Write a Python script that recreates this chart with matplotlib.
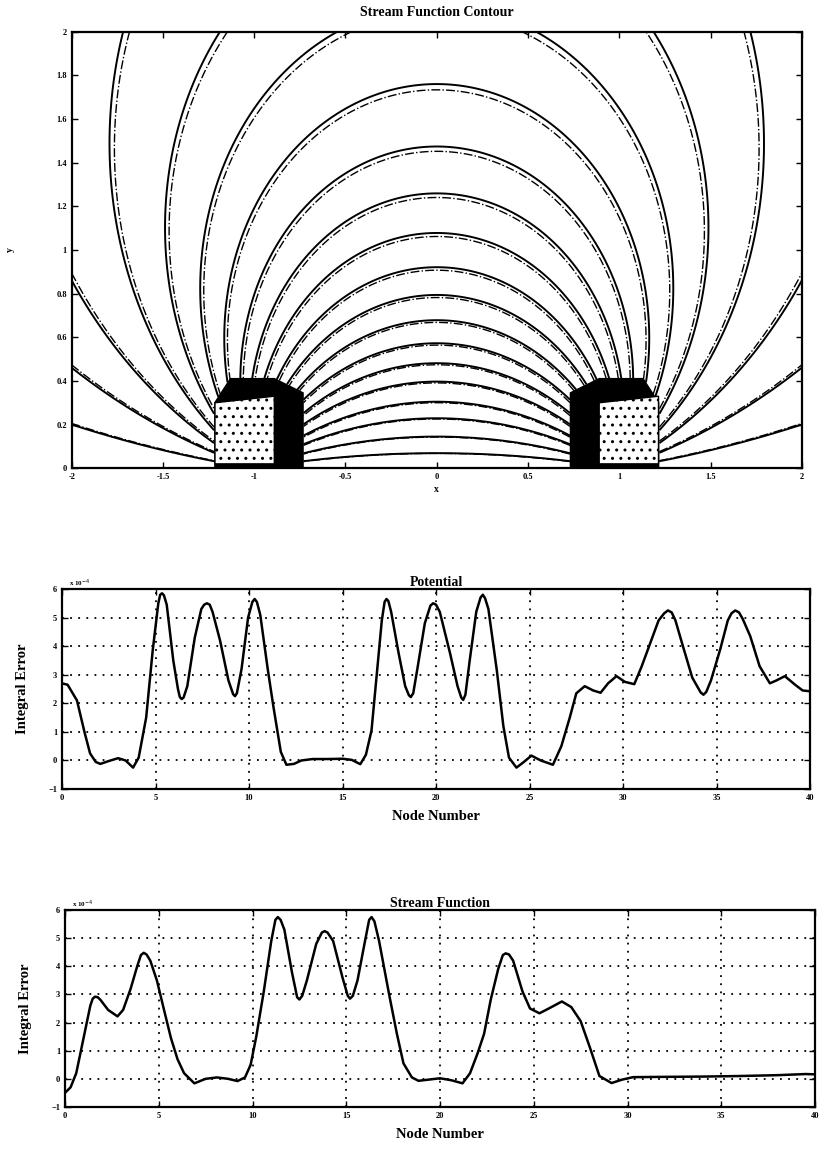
import numpy as np
import matplotlib
matplotlib.use("Agg")
import matplotlib.pyplot as plt
from matplotlib.path import Path
from matplotlib.patches import Polygon

plt.rcParams['font.family'] = ['Liberation Serif', 'DejaVu Serif']

# --- stream function contour: levels (angle subtended, deg)
psi_levels = [7.5, 16.0, 24.7, 33.9, 42.2, 50.5, 59.2, 68.3, 76.9, 85.7, 94.7,
              103.1, 111.7, 120.4, 128.6, 136.7, 146.1, 154.2, 163.5, 172.1]
focus_exact = 1.0
focus_approx = 0.985
# coil cross-section (left coil, mirrored for the right one)
coil_x = [-1.215, -1.215, -1.13, -0.89, -0.733, -0.733]
coil_y = [0.0, 0.30, 0.41, 0.41, 0.345, 0.0]
coil_inner_x = -0.89
coil_band_y = 0.33

# --- integral error, potential (x 1e-4)
pot_x = [0.0, 0.3, 0.8, 1.2, 1.5, 1.8, 2.05, 2.5, 3.0, 3.4, 3.8, 4.1, 4.5, 4.85,
         5.15, 5.25, 5.35, 5.45, 5.6, 5.95, 6.2, 6.3, 6.4, 6.5, 6.7, 7.1, 7.45,
         7.6, 7.75, 7.9, 8.05, 8.45, 8.9, 9.15, 9.25, 9.35, 9.6, 9.95, 10.18,
         10.3, 10.42, 10.6, 11.0, 11.3, 11.7, 12.0, 12.4, 12.8, 13.4, 14.2,
         15.0, 15.5, 15.95, 16.25, 16.55, 16.85, 17.1, 17.25, 17.35, 17.45,
         17.6, 18.0, 18.35, 18.55, 18.65, 18.78, 19.0, 19.4, 19.7, 19.85, 20.0,
         20.2, 20.75, 21.15, 21.35, 21.45, 21.57, 21.8, 22.15, 22.38, 22.5,
         22.62, 22.8, 23.25, 23.6, 23.9, 24.3, 24.7, 25.1, 25.6, 26.25, 26.7,
         27.15, 27.5, 27.95, 28.4, 28.8, 29.2, 29.65, 30.1, 30.6, 31.0, 31.45,
         31.9, 32.2, 32.4, 32.6, 32.8, 33.2, 33.7, 34.15, 34.3, 34.45, 34.7,
         35.2, 35.6, 35.8, 36.0, 36.2, 36.4, 36.8, 37.3, 37.85, 38.2, 38.65,
         39.2, 39.6, 40.0]
pot_err = [2.7, 2.65, 2.1, 1.0, 0.25, -0.05, -0.12, -0.02, 0.08, 0.0, -0.25, 0.1,
           1.5, 3.85, 5.5, 5.8, 5.85, 5.78, 5.45, 3.5, 2.5, 2.22, 2.15, 2.2, 2.6,
           4.3, 5.3, 5.45, 5.5, 5.45, 5.2, 4.2, 2.8, 2.32, 2.25, 2.35, 3.2, 5.0,
           5.55, 5.65, 5.55, 5.1, 3.2, 1.9, 0.3, -0.15, -0.12, 0.0, 0.05, 0.05,
           0.06, 0.02, -0.13, 0.2, 1.05, 3.15, 4.9, 5.55, 5.65, 5.58, 5.2, 3.75,
           2.6, 2.28, 2.22, 2.35, 3.2, 4.8, 5.42, 5.5, 5.45, 5.2, 3.75, 2.6, 2.2,
           2.12, 2.3, 3.5, 5.2, 5.7, 5.8, 5.68, 5.3, 3.15, 1.2, 0.1, -0.25, -0.05,
           0.17, 0.0, -0.15, 0.5, 1.5, 2.35, 2.6, 2.45, 2.37, 2.7, 2.95, 2.75,
           2.67, 3.3, 4.1, 4.9, 5.15, 5.25, 5.18, 4.9, 4.0, 2.9, 2.38, 2.3, 2.4,
           2.8, 3.9, 4.9, 5.15, 5.25, 5.18, 4.95, 4.35, 3.3, 2.7, 2.8, 2.95, 2.65,
           2.45, 2.42]

# --- integral error, stream function (x 1e-4)
str_x = [0.0, 0.3, 0.6, 0.85, 1.1, 1.35, 1.48, 1.6, 1.75, 1.9, 2.3, 2.8, 3.1,
         3.5, 3.85, 4.05, 4.2, 4.35, 4.55, 4.9, 5.3, 5.65, 6.0, 6.35, 6.9, 7.5,
         8.1, 8.7, 9.2, 9.6, 9.9, 10.2, 10.6, 11.0, 11.22, 11.35, 11.5, 11.7,
         12.1, 12.38, 12.5, 12.65, 12.9, 13.4, 13.7, 13.85, 14.0, 14.3, 14.8,
         15.08, 15.2, 15.35, 15.6, 16.0, 16.22, 16.35, 16.5, 16.75, 17.3, 17.7,
         18.05, 18.5, 18.85, 19.5, 20.0, 20.6, 21.2, 21.6, 22.0, 22.35, 22.7,
         23.1, 23.35, 23.5, 23.68, 23.9, 24.4, 24.8, 25.3, 25.8, 26.5, 27.0,
         27.5, 28.0, 28.5, 29.15, 29.7, 30.3, 32.0, 34.0, 36.0, 38.0, 39.5, 40.0]
str_err = [-0.5, -0.3, 0.2, 1.0, 1.8, 2.6, 2.85, 2.92, 2.9, 2.8, 2.45, 2.22,
           2.45, 3.2, 4.0, 4.4, 4.48, 4.42, 4.2, 3.5, 2.4, 1.45, 0.7, 0.2, -0.16,
           0.0, 0.05, 0.0, -0.08, 0.05, 0.5, 1.5, 3.1, 4.9, 5.65, 5.75, 5.65, 5.3,
           3.8, 2.9, 2.82, 2.95, 3.5, 4.8, 5.2, 5.25, 5.2, 4.9, 3.6, 2.95, 2.85,
           2.95, 3.5, 4.9, 5.65, 5.75, 5.6, 4.9, 2.95, 1.6, 0.55, 0.05, -0.07,
           -0.02, 0.02, -0.05, -0.16, 0.2, 0.9, 1.6, 2.8, 3.9, 4.4, 4.46, 4.42,
           4.2, 3.1, 2.5, 2.33, 2.5, 2.75, 2.55, 2.05, 1.1, 0.1, -0.15, -0.03,
           0.06, 0.07, 0.08, 0.1, 0.13, 0.17, 0.16]

x_ticks = [-2, -1.5, -1, -0.5, 0, 0.5, 1, 1.5, 2]
y_ticks = [0, 0.2, 0.4, 0.6, 0.8, 1, 1.2, 1.4, 1.6, 1.8, 2]
node_ticks = [0, 5, 10, 15, 20, 25, 30, 35, 40]
err_ticks = [-1, 0, 1, 2, 3, 4, 5, 6]

fig = plt.figure(figsize=(8.3, 11.59), dpi=100)


def style_axes(ax):
    ax.tick_params(direction='in', top=True, right=True, length=4, width=1)
    for s in ax.spines.values():
        s.set_linewidth(1.6)
    for lab in ax.get_xticklabels() + ax.get_yticklabels():
        lab.set_fontsize(6)
        lab.set_fontweight('bold')


# ---------------- top: contour ----------------
ax1 = fig.add_axes([0.0864, 0.596, 0.8796, 0.3766])
gx = np.linspace(-2, 2, 801)
gy = np.linspace(0, 2, 401)
X, Y = np.meshgrid(gx, gy)


def psi(a):
    return np.degrees(np.arctan2(Y, X - a) - np.arctan2(Y, X + a))


left_coil = np.column_stack([coil_x, coil_y])
right_coil = np.column_stack([-np.array(coil_x), coil_y])
pts = np.column_stack([X.ravel(), Y.ravel()])
inside = (Path(left_coil).contains_points(pts) |
          Path(right_coil).contains_points(pts)).reshape(X.shape)

psi_a = np.ma.array(psi(focus_approx), mask=inside)
psi_e = np.ma.array(psi(focus_exact), mask=inside)
ax1.contour(X, Y, psi_a, levels=psi_levels, colors='k', linewidths=1.0,
            linestyles='dashdot')
ax1.contour(X, Y, psi_e, levels=psi_levels, colors='k', linewidths=1.4,
            linestyles='solid')

for sgn in (1, -1):
    cx = sgn * np.array(coil_x)
    ax1.add_patch(Polygon(np.column_stack([cx, coil_y]), closed=True,
                          facecolor='k', edgecolor='k', lw=1.2, zorder=3))
    ox = sorted([sgn * coil_x[0], sgn * coil_inner_x])
    ax1.add_patch(Polygon([(ox[0], 0.02), (ox[1], 0.02), (ox[1], coil_band_y),
                           (ox[0], coil_band_y - 0.03)], closed=True,
                          facecolor='white', edgecolor='k', hatch='..',
                          lw=1.0, zorder=4))

ax1.set_xlim(-2, 2)
ax1.set_ylim(0, 2)
ax1.set_xticks(x_ticks)
ax1.set_xticklabels([f"{v:g}" for v in x_ticks])
ax1.set_yticks(y_ticks)
ax1.set_yticklabels([f"{v:g}" for v in y_ticks])
style_axes(ax1)
ax1.set_title('Stream Function Contour', fontsize=10, fontweight='bold', pad=11)
ax1.set_xlabel('x', fontsize=7, fontweight='bold', labelpad=3)
ax1.set_ylabel('y', fontsize=7, fontweight='bold', labelpad=30)


def error_panel(rect, xs, ys, title):
    ax = fig.add_axes(rect)
    ax.plot(xs, ys, color='k', lw=1.8)
    ax.set_xlim(0, 40)
    ax.set_ylim(-1, 6)
    ax.set_xticks(node_ticks)
    ax.set_yticks(err_ticks)
    ax.grid(True, color='k', linestyle=(0, (1, 3.5)), linewidth=1.3)
    style_axes(ax)
    ax.set_title(title, fontsize=10, fontweight='bold', pad=2)
    ax.set_xlabel('Node Number', fontsize=10.5, fontweight='bold', labelpad=6)
    ax.set_ylabel('Integral Error', fontsize=10.5, fontweight='bold',
                  labelpad=14)
    ax.text(0.01, 1.0, r'x 10$^{-4}$', transform=ax.transAxes, fontsize=5,
            fontweight='bold', va='bottom', ha='left')
    return ax


error_panel([0.0747, 0.3192, 0.9013, 0.1726], pot_x, pot_err, 'Potential')
error_panel([0.0783, 0.0449, 0.9037, 0.1699], str_x, str_err, 'Stream Function')

fig.savefig('out.png', dpi=100)
